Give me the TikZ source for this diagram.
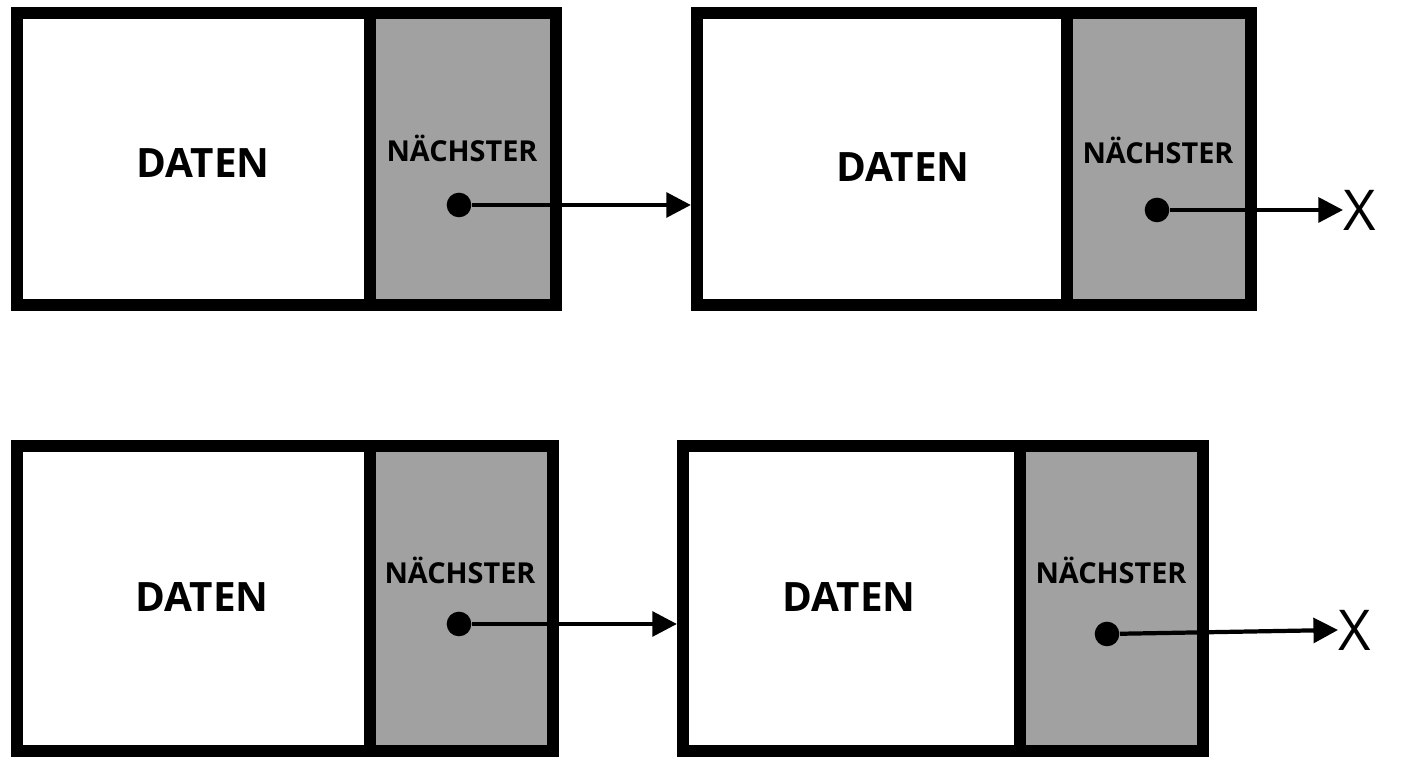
\documentclass[tikz,border=0pt]{standalone}
\usepackage{fontspec}
\setmainfont{Open Sans}
\usetikzlibrary{arrows.meta}
\tikzset{
    data/.style={rectangle, draw, line width=3.4pt, fill=white, inner sep=0pt},
    next/.style={rectangle, draw, line width=3.4pt, fill=black!37, inner sep=0pt},
    dlabel/.style={font=\bfseries\fontsize{11.5}{13}\selectfont},
    nlabel/.style={font=\bfseries\fontsize{8.2}{10}\selectfont},
    ptr/.style={circle, fill=black, inner sep=0pt, minimum size=7pt},
    link/.style={line width=1.2pt, -{Triangle[length=7pt,width=7pt]}},
    nil/.style={font=\fontsize{16}{18}\selectfont, inner sep=0pt}
}
\begin{document}
\begin{tikzpicture}[x=0.01cm, y=-0.01cm]
    \useasboundingbox (0,0) rectangle (1408,768);

    % first list
    \node[data, minimum width=3.53cm, minimum height=2.92cm] (d1) at (193.5,159) {};
    \node[next, minimum width=1.86cm, minimum height=2.92cm] (n1) at (463,159) {};
    \node[data, minimum width=3.70cm, minimum height=2.92cm] (d2) at (882,159) {};
    \node[next, minimum width=1.84cm, minimum height=2.92cm] (n2) at (1159,159) {};
    \node[dlabel] (t1) at (203,163) {DATEN};
    \node[nlabel] (s1) at (462,148) {NÄCHSTER};
    \node[dlabel] (t2) at (903,167) {DATEN};
    \node[nlabel] (s2) at (1158,150) {NÄCHSTER};
    \node[ptr] (p1) at (459,205) {};
    \node[ptr] (p2) at (1157,210) {};
    \node[nil] (x1) at (1360,210) {X};
    \draw[link] (p1) -- (p1 -| d2.west);
    \draw[link] (p2) -- (x1.west);

    % second list
    \node[data, minimum width=3.53cm, minimum height=3.05cm] (d3) at (193.5,598.5) {};
    \node[next, minimum width=1.83cm, minimum height=3.05cm] (n3) at (461.5,598.5) {};
    \node[data, minimum width=3.37cm, minimum height=3.05cm] (d4) at (851.5,598.5) {};
    \node[next, minimum width=1.83cm, minimum height=3.05cm] (n4) at (1111.5,598.5) {};
    \node[dlabel] (t3) at (202,597) {DATEN};
    \node[nlabel] (s3) at (460,570) {NÄCHSTER};
    \node[dlabel] (t4) at (849,597) {DATEN};
    \node[nlabel] (s4) at (1111,570) {NÄCHSTER};
    \node[ptr] (p3) at (459,624) {};
    \node[ptr] (p4) at (1107,634) {};
    \node[nil] (x2) at (1355,630) {X};
    \draw[link] (p3) -- (p3 -| d4.west);
    \draw[link] (p4) -- (x2.west);
\end{tikzpicture}
\end{document}
